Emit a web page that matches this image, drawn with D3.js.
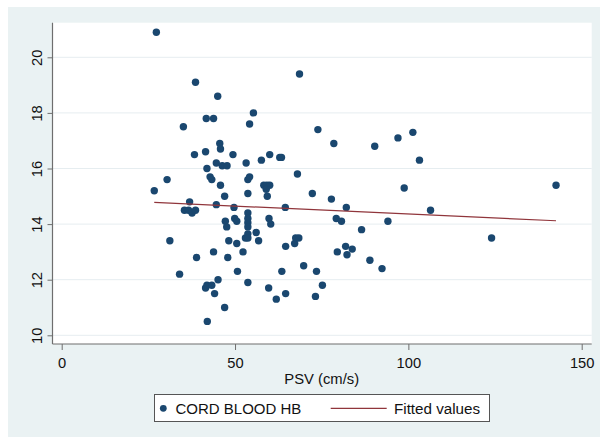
<!DOCTYPE html>
<html>
<head>
<meta charset="utf-8">
<script src="https://cdn.jsdelivr.net/npm/d3@7"></script>
<style>
  body { margin: 0; background: #fff; }
  svg { display: block; font-family: "Liberation Sans", Arial, sans-serif; }
</style>
</head>
<body>
<div id="chart"></div>
<script>
// PSV (cm/s) values, one per observation
const psv = [
  27.3, 26.7, 30.4, 31.2, 34.0, 35.1, 36.9, 35.4, 36.6, 37.6,
  38.6, 38.3, 38.6, 38.9, 41.5, 41.7, 43.8, 41.9, 42.8, 43.3,
  43.8, 41.5, 41.9, 43.3, 44.1, 42.0, 45.1, 47.0, 45.0, 45.6,
  45.8, 44.6, 46.3, 47.7, 45.8, 47.0, 44.6, 47.2, 47.6, 47.9,
  48.2, 49.4, 49.7, 49.9, 50.5, 50.5, 50.7, 52.3, 53.2, 53.0,
  53.7, 54.2, 53.7, 53.7, 53.7, 53.7, 53.7, 53.7, 53.7, 54.2,
  55.3, 53.7, 56.1, 56.8, 57.6, 58.3, 59.2, 60.0, 59.0, 59.3,
  60.0, 59.8, 60.3, 59.7, 61.9, 62.9, 63.4, 63.5, 64.5, 64.6,
  64.6, 67.2, 67.5, 68.4, 68.0, 68.6, 69.8, 72.3, 73.5, 73.2,
  73.9, 75.2, 77.8, 78.5, 79.5, 79.2, 80.7, 82.1, 81.9, 82.3,
  83.8, 86.5, 88.9, 90.3, 92.4, 94.1, 97.0, 98.8, 101.3, 103.2,
  106.4, 124.0, 142.6
];

// cord blood Hb, same order as psv
const hb = [
  20.9, 15.2, 15.6, 13.4, 12.2, 17.5, 14.8, 14.5, 14.5, 14.4,
  14.5, 16.5, 19.1, 12.8, 16.6, 17.8, 17.8, 16.0, 15.7, 15.6,
  13.0, 11.7, 11.8, 11.8, 11.5, 10.5, 12.0, 11.0, 18.6, 16.9,
  16.7, 16.2, 16.1, 16.1, 15.4, 15.0, 14.7, 14.1, 13.9, 12.8,
  13.4, 16.5, 14.6, 14.2, 14.1, 13.3, 12.3, 13.0, 16.2, 13.5,
  15.6, 15.7, 15.1, 14.4, 14.2, 14.05, 13.9, 13.65, 13.5, 17.6,
  18.0, 11.9, 13.7, 13.4, 16.3, 15.4, 15.4, 15.4, 15.25, 15.0,
  16.5, 14.2, 14.0, 11.7, 11.3, 16.4, 16.4, 12.3, 14.6, 13.2,
  11.5, 13.3, 13.5, 13.5, 15.8, 19.4, 12.5, 15.1, 12.3, 11.4,
  17.4, 11.8, 14.9, 16.9, 13.0, 14.2, 14.1, 14.6, 13.2, 12.9,
  13.1, 13.8, 12.7, 16.8, 12.4, 14.1, 17.1, 15.3, 17.3, 16.3,
  14.5, 13.5, 15.4
];

// fitted line end points
const fitX = [26.7, 142.6];
const fitY = [14.78, 14.12];

const xTicks = [0, 50, 100, 150];
const yTicks = [10, 12, 14, 16, 18, 20];

const width = 600, height = 438;
const plot = { left: 52.5, right: 591.7, top: 22.7, bottom: 344 };

const navy = "#1a476f";
const maroon = "#90353b";
const axisGray = "#6e6e6e";

const svg = d3.select("#chart").append("svg")
  .attr("width", width)
  .attr("height", height);

// graph region
svg.append("rect")
  .attr("x", 8).attr("y", 7)
  .attr("width", width - 8).attr("height", 430)
  .attr("fill", "#eaf2f3");

// plot region
svg.append("rect")
  .attr("x", plot.left).attr("y", plot.top)
  .attr("width", plot.right - plot.left)
  .attr("height", plot.bottom - plot.top)
  .attr("fill", "#fff");

const x = d3.scaleLinear().domain([0, 150]).range([61.7, 581.7]);
const y = d3.scaleLinear().domain([10, 20]).range([335.3, 57.3]);

// grid lines
svg.append("g")
  .selectAll("line")
  .data(yTicks)
  .join("line")
  .attr("x1", plot.left).attr("x2", plot.right)
  .attr("y1", d => y(d)).attr("y2", d => y(d))
  .attr("stroke", "#e6edf0")
  .attr("stroke-width", 1);

// y axis
const yAxis = svg.append("g")
  .attr("transform", `translate(${plot.left},0)`)
  .call(d3.axisLeft(y).tickValues(yTicks).tickSize(5).tickFormat(d3.format("d")));
yAxis.select(".domain").remove();
yAxis.selectAll(".tick line").attr("stroke", axisGray);
yAxis.selectAll(".tick text")
  .attr("transform", "rotate(-90)")
  .attr("x", 0)
  .attr("y", -11)
  .attr("dy", 0)
  .attr("text-anchor", "middle")
  .attr("font-size", 14.7)
  .attr("fill", "#111");

// x axis
const xAxis = svg.append("g")
  .attr("transform", `translate(0,${plot.bottom})`)
  .call(d3.axisBottom(x).tickValues(xTicks).tickSize(6).tickFormat(d3.format("d")));
xAxis.select(".domain").remove();
xAxis.selectAll(".tick line").attr("stroke", axisGray);
xAxis.selectAll(".tick text")
  .attr("y", 23.8)
  .attr("dy", 0)
  .attr("font-size", 14.7)
  .attr("fill", "#111");

// axis lines
svg.append("line")
  .attr("x1", plot.left).attr("x2", plot.left)
  .attr("y1", plot.top).attr("y2", plot.bottom)
  .attr("stroke", axisGray).attr("stroke-width", 1.2);
svg.append("line")
  .attr("x1", plot.left).attr("x2", plot.right)
  .attr("y1", plot.bottom).attr("y2", plot.bottom)
  .attr("stroke", axisGray).attr("stroke-width", 1.2);

// x title
svg.append("text")
  .attr("x", (x(0) + x(150)) / 2)
  .attr("y", 383.8)
  .attr("text-anchor", "middle")
  .attr("font-size", 14.8)
  .attr("fill", "#111")
  .text("PSV (cm/s)");

// points
svg.append("g")
  .selectAll("circle")
  .data(psv.map((v, i) => ({ x: v, y: hb[i] })))
  .join("circle")
  .attr("cx", d => x(d.x))
  .attr("cy", d => y(d.y))
  .attr("r", 3.7)
  .attr("fill", navy);

// fitted line
const line = d3.line().x(d => x(d[0])).y(d => y(d[1]));
svg.append("path")
  .datum(fitX.map((v, i) => [v, fitY[i]]))
  .attr("d", line)
  .attr("fill", "none")
  .attr("stroke", maroon)
  .attr("stroke-width", 1.2);

// legend
const legend = svg.append("g");
legend.append("rect")
  .attr("x", 154.5).attr("y", 394.5)
  .attr("width", 335).attr("height", 27)
  .attr("fill", "#fff")
  .attr("stroke", "#555");
legend.append("circle")
  .attr("cx", 163.3).attr("cy", 408.3)
  .attr("r", 3.4)
  .attr("fill", navy);
legend.append("text")
  .attr("x", 175.5).attr("y", 413.6)
  .attr("font-size", 15)
  .attr("fill", "#111")
  .text("CORD BLOOD HB");
legend.append("line")
  .attr("x1", 330.7).attr("x2", 386.7)
  .attr("y1", 408.3).attr("y2", 408.3)
  .attr("stroke", maroon).attr("stroke-width", 1.2);
legend.append("text")
  .attr("x", 394).attr("y", 413.6)
  .attr("font-size", 15.2)
  .attr("fill", "#111")
  .text("Fitted values");
</script>
</body>
</html>
